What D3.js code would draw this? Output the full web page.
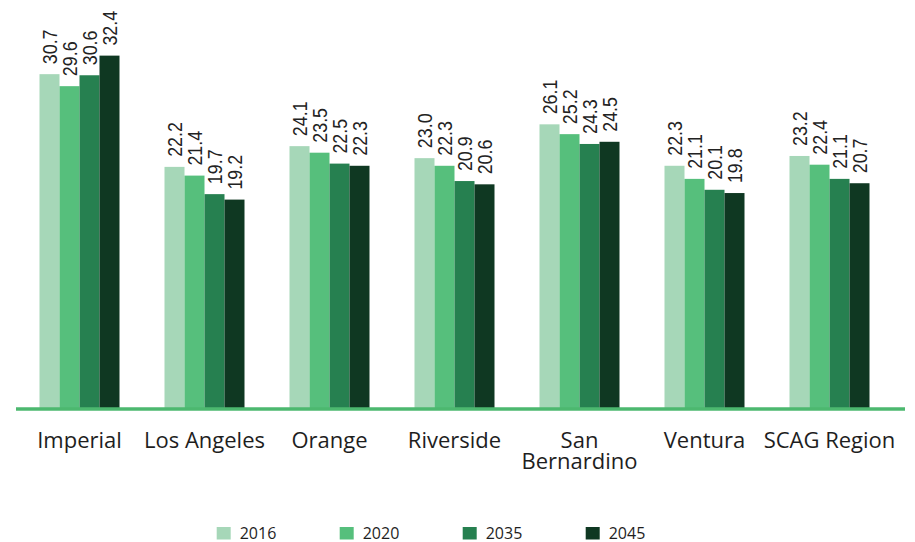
<!DOCTYPE html>
<html>
<head>
<meta charset="utf-8">
<script src="https://cdn.jsdelivr.net/npm/d3@7"></script>
<style>
  html, body { margin: 0; padding: 0; background: #fff; }
  svg { display: block; }
</style>
</head>
<body>
<svg id="chart" width="915" height="542"></svg>
<script>
const categories = ["Imperial", "Los Angeles", "Orange", "Riverside", "San Bernardino", "Ventura", "SCAG Region"];
const categoryLines = [["Imperial"], ["Los Angeles"], ["Orange"], ["Riverside"], ["San", "Bernardino"], ["Ventura"], ["SCAG Region"]];
const years = ["2016", "2020", "2035", "2045"];
const values2016 = [30.7, 22.2, 24.1, 23.0, 26.1, 22.3, 23.2];
const values2020 = [29.6, 21.4, 23.5, 22.3, 25.2, 21.1, 22.4];
const values2035 = [30.6, 19.7, 22.5, 20.9, 24.3, 20.1, 21.1];
const values2045 = [32.4, 19.2, 22.3, 20.6, 24.5, 19.8, 20.7];
const colors = ["#a6d7b8", "#56bf7c", "#268050", "#0f3822"];

const series = [values2016, values2020, values2035, values2045];

const svg = d3.select("#chart");

const x = d3.scaleBand().domain(categories).range([17, 892]).paddingInner(0.36).paddingOuter(0.18);
const xi = d3.scaleBand().domain(years).range([0, x.bandwidth()]);
const y = d3.scaleLinear().domain([0, 37.5]).range([409, 0]);

const data = [];
categories.forEach((c, ci) => {
  years.forEach((yr, yi) => {
    data.push({ cat: c, year: yr, yi: yi, value: series[yi][ci] });
  });
});

const g = svg.append("g");
g.selectAll("rect.bar").data(data).join("rect")
  .attr("class", "bar")
  .attr("x", d => x(d.cat) + xi(d.year))
  .attr("y", d => y(d.value))
  .attr("width", xi.bandwidth())
  .attr("height", d => y(0) - y(d.value))
  .attr("fill", d => colors[d.yi]);

// value labels (rotated)
g.selectAll("text.val").data(data).join("text")
  .attr("class", "val")
  .attr("transform", d => `translate(${x(d.cat) + xi(d.year) + xi.bandwidth() / 2},${y(d.value) - 10}) rotate(-90) scale(0.85,1)`)
  .attr("dy", "0.36em")
  .attr("text-anchor", "start")
  .attr("font-family", "'Liberation Sans', Arial, sans-serif")
  .attr("font-size", 21)
  .attr("fill", "#222")
  .text(d => d.value.toFixed(1));

// baseline axis line
svg.append("line")
  .attr("x1", 16).attr("x2", 905)
  .attr("y1", y(0)).attr("y2", y(0))
  .attr("stroke", "#4cb86f")
  .attr("stroke-width", 3.7);

// category labels
const cl = svg.selectAll("text.cat").data(categories).join("text")
  .attr("class", "cat")
  .attr("x", d => x(d) + x.bandwidth() / 2)
  .attr("y", 448)
  .attr("text-anchor", "middle")
  .attr("font-family", "'Open Sans', sans-serif")
  .attr("font-size", 22)
  .attr("font-weight", 500)
  .attr("fill", "#1e1e1e");
cl.each(function(d, i) {
  const t = d3.select(this);
  categoryLines[i].forEach((line, li) => {
    t.append("tspan")
      .attr("x", x(d) + x.bandwidth() / 2)
      .attr("dy", li === 0 ? 0 : 21)
      .text(line);
  });
});

// legend
const legend = svg.append("g");
const lx = d3.scalePoint().domain(years).range([216.7, 585.7]);
years.forEach((yr, i) => {
  legend.append("rect")
    .attr("x", lx(yr)).attr("y", 527)
    .attr("width", 14).attr("height", 12.5)
    .attr("fill", colors[i]);
  legend.append("text")
    .attr("x", lx(yr) + 23).attr("y", 538.5)
    .attr("font-family", "'Open Sans', sans-serif")
    .attr("font-size", 16)
    .attr("font-weight", 500)
    .attr("fill", "#1e1e1e")
    .text(yr);
});
</script>
</body>
</html>
